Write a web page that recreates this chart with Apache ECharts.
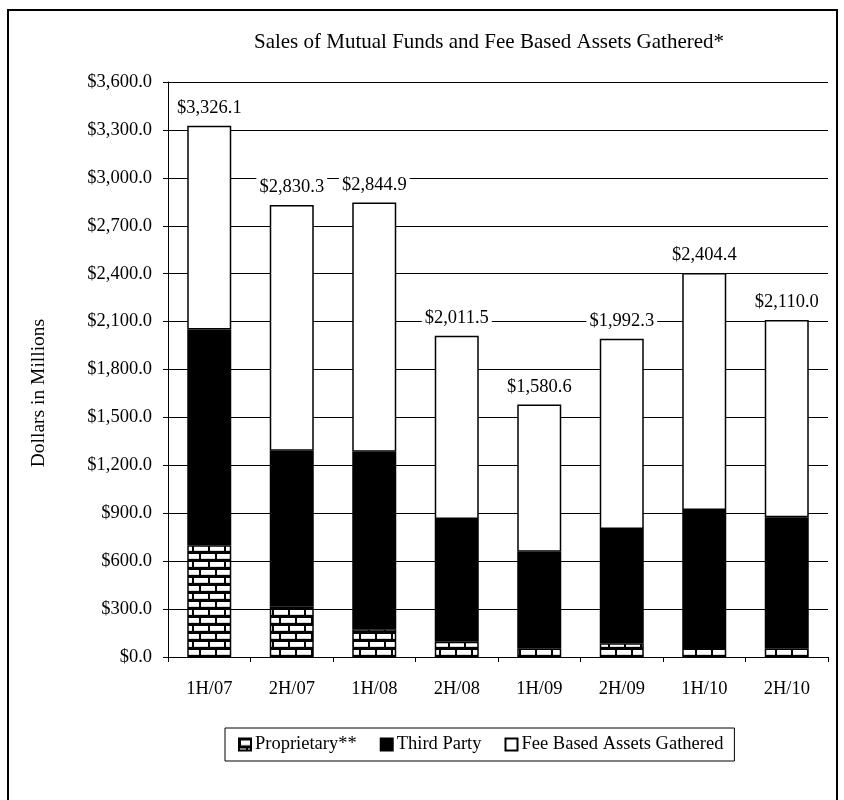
<!DOCTYPE html>
<html>
<head>
<meta charset="utf-8">
<script src="https://cdn.jsdelivr.net/npm/echarts@6/dist/echarts.min.js"></script>
<style>
  html, body { margin: 0; padding: 0; background: #fff; }
  #chart { width: 844px; height: 800px; }
</style>
</head>
<body>
<div id="chart"></div>
<script>
// Half-year periods
const categories = ['1H/07', '2H/07', '1H/08', '2H/08', '1H/09', '2H/09', '1H/10', '2H/10'];
// Sales by channel, $ millions
const proprietary = [700, 315, 173, 96, 55, 86, 69, 55];
const thirdParty = [1350, 977, 1112, 768, 604, 715, 851, 820];
// Total sales plus fee based assets gathered, $ millions
const totals = [3326.1, 2830.3, 2844.9, 2011.5, 1580.6, 1992.3, 2404.4, 2110.0];
// Fee based assets fill the rest of each column up to its total
const feeBased = totals.map((t, i) => +(t - proprietary[i] - thirdParty[i]).toFixed(1));

const FONT = '"Liberation Serif", "Times New Roman", serif';
const FS = 18.5;

function money(v) {
  return '$' + Number(v).toLocaleString('en-US', { minimumFractionDigits: 1, maximumFractionDigits: 1 });
}

// Brick fill for the proprietary segment
function brickPattern() {
  const c = document.createElement('canvas');
  c.width = 16; c.height = 16;
  const g = c.getContext('2d');
  g.fillStyle = '#000';
  g.fillRect(0, 0, 16, 16);
  g.fillStyle = '#fff';
  g.fillRect(2, 2, 14, 5);
  g.fillRect(0, 10, 7, 5);
  g.fillRect(9, 10, 7, 5);
  g.fillStyle = '#d8d8d8';
  g.fillRect(2, 6, 14, 1);
  g.fillRect(0, 14, 7, 1);
  g.fillRect(9, 14, 7, 1);
  return c;
}

const chart = echarts.init(document.getElementById('chart'), null, { renderer: 'canvas' });

chart.setOption({
  backgroundColor: '#fff',
  animation: false,
  textStyle: { fontFamily: FONT, color: '#000' },
  grid: { left: 168, right: 16, top: 82, bottom: 143, containLabel: false },
  graphic: [
    {
      type: 'rect',
      shape: { x: 8, y: 10, width: 829, height: 800 },
      style: { fill: 'none', stroke: '#000', lineWidth: 2 },
      silent: true
    },
    {
      type: 'text',
      x: 489, y: 42,
      style: {
        text: 'Sales of Mutual Funds and Fee Based Assets Gathered*',
        font: '21px ' + FONT,
        fill: '#000',
        textAlign: 'center',
        textVerticalAlign: 'middle'
      }
    },
    {
      type: 'text',
      x: 39, y: 393,
      rotation: Math.PI / 2,
      style: {
        text: 'Dollars in Millions',
        font: '19.5px ' + FONT,
        fill: '#000',
        textAlign: 'center',
        textVerticalAlign: 'middle'
      }
    }
  ],
  legend: {
    left: 225, top: 728,
    orient: 'horizontal',
    itemWidth: 12, itemHeight: 12,
    itemGap: 23,
    padding: [7, 11, 7, 13],
    borderColor: '#000', borderWidth: 1,
    icon: 'rect',
    textStyle: { fontFamily: FONT, fontSize: FS, color: '#000', padding: [0, 0, 0, -1] },
    data: ['Proprietary**', 'Third Party', 'Fee Based Assets Gathered']
  },
  xAxis: {
    type: 'category',
    data: categories,
    axisLine: { lineStyle: { color: '#000', width: 1 } },
    axisTick: { show: true, length: 5, lineStyle: { color: '#000' } },
    axisLabel: { fontFamily: FONT, fontSize: FS, color: '#000', margin: 23 }
  },
  yAxis: {
    type: 'value',
    min: 0, max: 3600, interval: 300,
    axisLine: { show: true, lineStyle: { color: '#000', width: 1 } },
    axisTick: { show: true, length: 5, lineStyle: { color: '#000' } },
    axisLabel: { fontFamily: FONT, fontSize: FS, color: '#000', margin: 16, formatter: v => money(v) },
    splitLine: { show: true, lineStyle: { color: '#000', width: 1 } }
  },
  series: [
    {
      name: 'Proprietary**',
      type: 'bar',
      stack: 'sales',
      barWidth: 44,
      data: proprietary,
      itemStyle: { color: { image: brickPattern(), repeat: 'repeat' }, borderColor: '#000', borderWidth: 1.5 }
    },
    {
      name: 'Third Party',
      type: 'bar',
      stack: 'sales',
      barWidth: 44,
      data: thirdParty,
      itemStyle: { color: '#000', borderColor: '#000', borderWidth: 1.5 }
    },
    {
      name: 'Fee Based Assets Gathered',
      type: 'bar',
      stack: 'sales',
      barWidth: 44,
      data: feeBased,
      itemStyle: { color: '#fff', borderColor: '#000', borderWidth: 1.5 },
      label: {
        show: true,
        position: 'top',
        distance: 8,
        fontFamily: FONT,
        fontSize: FS,
        color: '#000',
        backgroundColor: '#fff',
        padding: [0, 3],
        formatter: p => money(totals[p.dataIndex])
      }
    }
  ]
});
</script>
</body>
</html>
